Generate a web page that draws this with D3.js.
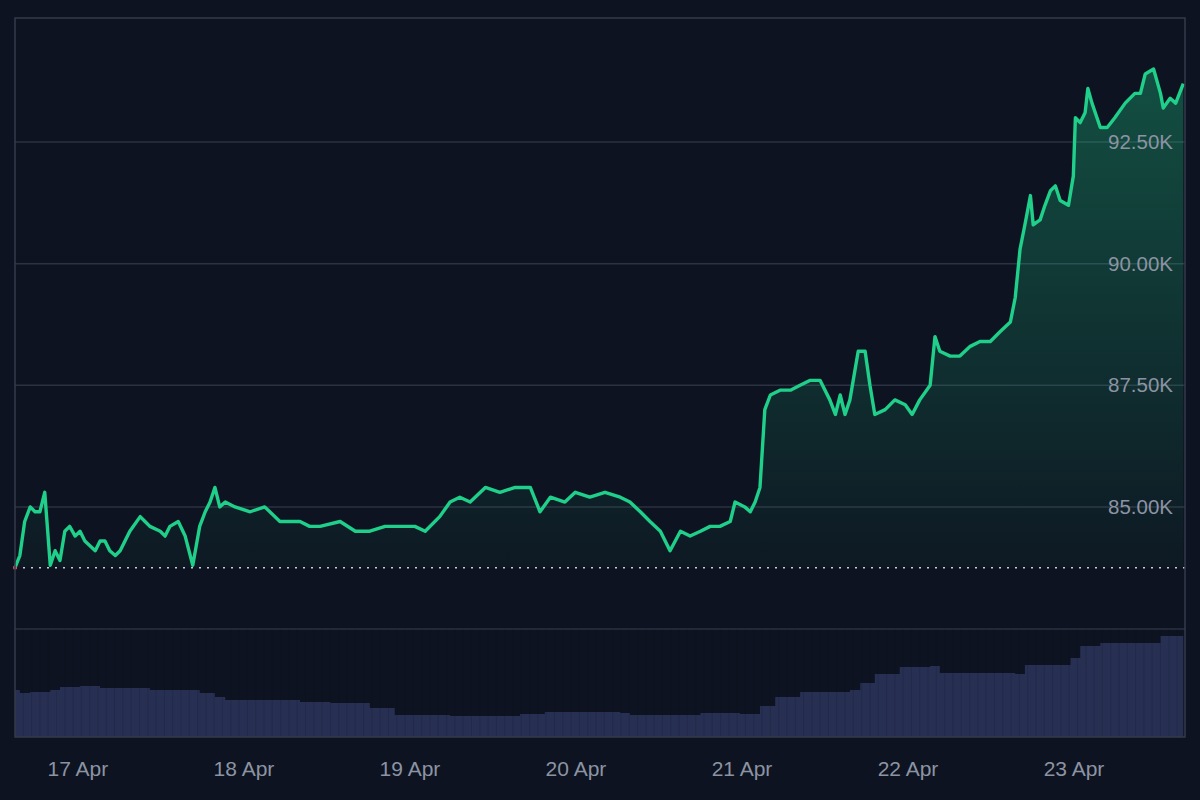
<!DOCTYPE html>
<html><head><meta charset="utf-8">
<script src="https://cdn.jsdelivr.net/npm/d3@7"></script>
<style>html,body{margin:0;background:#0d1320;}svg{display:block}</style>
</head><body><svg id="c" width="1200" height="800"></svg>
<script>
// hours relative to 17 Apr 00:00 UTC
const hours = [-9.1,-8.4,-7.7,-6.9,-6.2,-5.5,-4.8,-4.0,-3.3,-2.6,-1.9,-1.2,-0.4,0.3,1.0,2.5,3.2,3.9,4.6,5.4,6.1,7.5,9.0,9.7,10.4,11.9,12.6,13.3,14.5,15.5,16.6,17.6,18.4,19.1,19.8,20.5,21.3,22.7,24.9,27.0,29.2,32.1,33.5,35.0,37.9,40.1,42.2,44.4,46.6,48.7,50.2,52.3,53.8,55.2,56.7,58.9,61.0,63.2,65.4,66.8,68.3,70.4,71.9,74.0,76.2,78.4,79.8,81.3,82.7,84.2,85.6,87.1,88.5,90.0,91.4,92.8,94.3,95.0,96.4,97.2,97.9,98.6,99.3,100.1,101.5,103.0,104.4,105.8,107.3,108.7,109.5,110.2,110.9,111.6,112.8,113.8,114.5,115.2,116.7,118.1,119.6,120.6,121.7,123.2,123.9,124.6,126.1,127.5,129.0,130.4,131.9,133.3,134.8,135.5,136.2,136.9,137.7,138.1,139.1,139.8,140.6,141.3,142.0,143.2,143.9,144.2,144.9,145.6,146.0,146.6,147.8,148.8,149.9,151.4,152.8,153.6,154.3,155.5,156.5,156.9,157.9,158.7,159.8];
// price in thousands USD
const prices = [83.75,84.0,84.7,85.0,84.9,84.9,85.3,83.8,84.1,83.9,84.5,84.6,84.4,84.5,84.3,84.1,84.3,84.3,84.1,84.0,84.1,84.5,84.8,84.7,84.6,84.5,84.4,84.6,84.7,84.4,83.8,84.6,84.9,85.1,85.4,85.0,85.1,85.0,84.9,85.0,84.7,84.7,84.6,84.6,84.7,84.5,84.5,84.6,84.6,84.6,84.5,84.8,85.1,85.2,85.1,85.4,85.3,85.4,85.4,84.9,85.2,85.1,85.3,85.2,85.3,85.2,85.1,84.9,84.7,84.5,84.1,84.5,84.4,84.5,84.6,84.6,84.7,85.1,85.0,84.9,85.1,85.4,87.0,87.3,87.4,87.4,87.5,87.6,87.6,87.2,86.9,87.3,86.9,87.2,88.2,88.2,87.5,86.9,87.0,87.2,87.1,86.9,87.2,87.5,88.5,88.2,88.1,88.1,88.3,88.4,88.4,88.6,88.8,89.3,90.3,90.8,91.4,90.8,90.9,91.2,91.5,91.6,91.3,91.2,91.8,93.0,92.9,93.1,93.6,93.3,92.8,92.8,93.0,93.3,93.5,93.5,93.9,94.0,93.5,93.2,93.4,93.3,93.7];
const baseline = 83.75;
// volume series (hours, relative units)
const volHours = [-9.1,-8.4,-6.9,-4.0,-2.6,0.3,3.2,10.4,17.6,19.8,21.3,32.1,36.5,42.2,45.8,53.8,63.9,67.5,78.4,79.8,90.0,95.7,98.6,100.8,104.4,111.6,113.1,115.2,118.8,123.2,124.6,135.5,136.9,143.5,144.9,147.8,156.5,159.8];
const volumes = [23.5,22,22.5,23.5,25,25.5,24.5,23.5,22,20,18.5,17.5,17,14.5,11,10.5,11.5,12.5,12,11,12,11.5,15.5,20,22.5,23.5,27,31.5,35,35.5,32,31.5,36,39.5,45.5,47,50.5,50];
const yTicks = [85, 87.5, 90, 92.5];
const dayLabels = ["17 Apr","18 Apr","19 Apr","20 Apr","21 Apr","22 Apr","23 Apr"];

const base = Date.UTC(2025,3,17);
const T = h => new Date(base + h*3600e3);
const svg = d3.select("#c");
const L=15,R=1185,TOP=18,PB=629,VB=737;
const x = d3.scaleUtc().domain([T(-9.1),T(159.8)]).range([15,1183.3]);
const y = d3.scaleLinear().domain([82.49,95.05]).range([PB,TOP]);
const yv = d3.scaleLinear().domain([0,54]).range([VB,PB]);
const pts = hours.map((h,i)=>({t:T(h),v:prices[i]}));

const defs = svg.append("defs");
const g = defs.append("linearGradient").attr("id","gf").attr("x1",0).attr("x2",0)
  .attr("gradientUnits","userSpaceOnUse").attr("y1",y(94)).attr("y2",y(baseline));
g.append("stop").attr("offset",0).attr("stop-color","#1fcf8a").attr("stop-opacity",0.32);
g.append("stop").attr("offset",1).attr("stop-color","#1fcf8a").attr("stop-opacity",0.03);

svg.append("g").selectAll("line").data(yTicks).join("line")
  .attr("x1",L).attr("x2",R).attr("y1",d=>y(d)).attr("y2",d=>y(d))
  .attr("stroke","#2b3242").attr("stroke-width",1.5);
svg.append("line").attr("x1",L).attr("x2",R).attr("y1",PB).attr("y2",PB).attr("stroke","#2b3242").attr("stroke-width",1.5);

const vpts = volHours.map((h,i)=>({t:T(h),v:volumes[i]}));
svg.append("path").datum(vpts)
  .attr("d",d3.area().curve(d3.curveStepAfter).x(d=>x(d.t)).y0(VB).y1(d=>yv(d.v)))
  .attr("fill","#272f52");
svg.append("g").selectAll("line").data(d3.range(0,170,1.2)).join("line")
  .attr("x1",h=>x(T(h-9.1))).attr("x2",h=>x(T(h-9.1))).attr("y1",PB).attr("y2",VB)
  .attr("stroke","#0d1320").attr("stroke-opacity",0.25).attr("stroke-width",0.6);

svg.append("path").datum(pts)
  .attr("d",d3.area().x(d=>x(d.t)).y0(y(baseline)).y1(d=>y(d.v)))
  .attr("fill","url(#gf)");
svg.append("line").attr("x1",L).attr("x2",R).attr("y1",y(baseline)).attr("y2",y(baseline))
  .attr("stroke","#c8ccd6").attr("stroke-width",1.5).attr("stroke-dasharray","2,6");
svg.append("path").datum(pts)
  .attr("d",d3.line().x(d=>x(d.t)).y(d=>y(d.v)))
  .attr("fill","none").attr("stroke","#1fcf8a").attr("stroke-width",3.4).attr("stroke-linejoin","round");
svg.append("circle").attr("cx",x(pts[0].t)).attr("cy",y(baseline)).attr("r",2).attr("fill","#e0506a");

svg.append("rect").attr("x",L).attr("y",TOP).attr("width",R-L).attr("height",VB-TOP)
  .attr("fill","none").attr("stroke","#343b4b").attr("stroke-width",1.5);

svg.append("g").selectAll("text").data(yTicks).join("text")
  .attr("x",1173).attr("y",d=>y(d)+7).attr("text-anchor","end")
  .attr("font-family","Liberation Sans, Arial, sans-serif").attr("font-size",20.5)
  .attr("fill","#8c93a3").text(d=>d3.format(".2f")(d)+"K");
svg.append("g").selectAll("text").data(dayLabels).join("text")
  .attr("x",(d,i)=>x(T(i*24))).attr("y",776).attr("text-anchor","middle")
  .attr("font-family","Liberation Sans, Arial, sans-serif").attr("font-size",21)
  .attr("fill","#8c93a3").text(d=>d);
</script></body></html>
